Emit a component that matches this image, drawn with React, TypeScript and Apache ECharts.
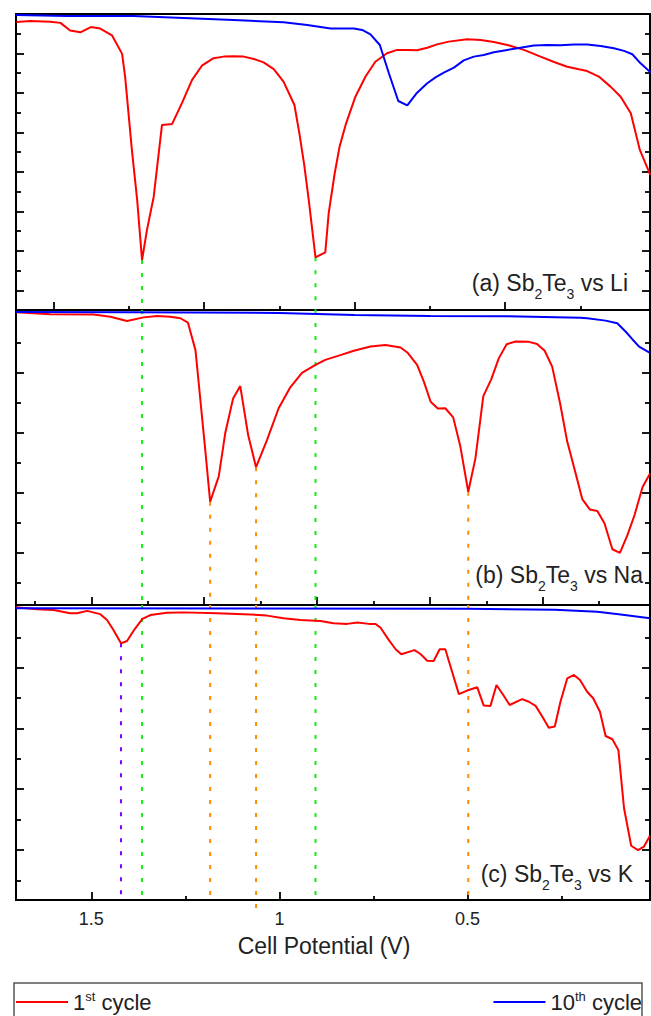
import React, { useEffect, useRef } from "react";
import * as echarts from "echarts";

// ---------- data (cell potential V, dQ/dV in arbitrary units) ----------
const X_MIN = 0.015;
const X_MAX = 1.7;

// (a) Sb2Te3 vs Li
const liFirst: [number, number][] = [
  [1.699, 14.6], [1.662, 14.65], [1.609, 14.61], [1.582, 14.55], [1.556, 14.16], [1.529, 14.07],
  [1.501, 14.34], [1.476, 14.26], [1.445, 13.92], [1.418, 12.98], [1.41, 11.83], [1.392, 8.11],
  [1.378, 5.58], [1.365, 2.53], [1.352, 4.05], [1.334, 5.74], [1.312, 9.38], [1.285, 9.43],
  [1.259, 10.48], [1.232, 11.66], [1.206, 12.38], [1.175, 12.76], [1.148, 12.84], [1.122, 12.86],
  [1.095, 12.84], [1.068, 12.72], [1.042, 12.55], [1.015, 12.21], [0.989, 11.57], [0.96, 10.39],
  [0.947, 8.96], [0.934, 7.35], [0.922, 5.58], [0.904, 2.67], [0.878, 2.92], [0.869, 4.9],
  [0.853, 6.93], [0.84, 8.28], [0.824, 9.38], [0.798, 10.81], [0.771, 11.83], [0.745, 12.58],
  [0.714, 13.01], [0.687, 13.18], [0.66, 13.18], [0.634, 13.16], [0.607, 13.29], [0.581, 13.46],
  [0.55, 13.6], [0.501, 13.72], [0.465, 13.68], [0.43, 13.58], [0.394, 13.43], [0.35, 13.18],
  [0.306, 12.84], [0.27, 12.57], [0.235, 12.33], [0.204, 12.2], [0.182, 12.11], [0.151, 11.83],
  [0.12, 11.32], [0.093, 10.81], [0.066, 9.97], [0.042, 8.11], [0.014, 6.84],
];
const liTenth: [number, number][] = [
  [1.7, 14.95], [1.565, 14.9], [1.388, 14.9], [1.255, 14.8], [1.122, 14.7], [0.989, 14.58],
  [0.926, 14.44], [0.864, 14.26], [0.802, 14.26], [0.78, 14.19], [0.758, 13.97], [0.733, 13.43],
  [0.709, 12.0], [0.684, 10.59], [0.66, 10.37], [0.634, 11.01], [0.607, 11.49], [0.585, 11.79],
  [0.563, 12.03], [0.536, 12.28], [0.51, 12.65], [0.483, 12.84], [0.457, 12.92], [0.43, 13.06],
  [0.394, 13.18], [0.359, 13.29], [0.324, 13.4], [0.288, 13.43], [0.253, 13.42], [0.217, 13.46],
  [0.182, 13.45], [0.146, 13.38], [0.111, 13.26], [0.084, 13.13], [0.062, 12.96], [0.04, 12.5],
  [0.013, 12.03],
];

// (b) Sb2Te3 vs Na
const naFirst: [number, number][] = [
  [1.7, 9.92], [1.609, 9.86], [1.494, 9.85], [1.449, 9.77], [1.405, 9.63], [1.361, 9.75],
  [1.325, 9.8], [1.29, 9.77], [1.263, 9.72], [1.243, 9.57], [1.223, 8.64], [1.21, 6.95],
  [1.197, 5.25], [1.184, 3.5], [1.161, 4.37], [1.144, 5.82], [1.123, 7.0], [1.104, 7.42],
  [1.083, 5.76], [1.062, 4.67], [1.033, 5.59], [1.002, 6.67], [0.971, 7.38], [0.94, 7.87],
  [0.904, 8.14], [0.878, 8.31], [0.838, 8.47], [0.802, 8.62], [0.758, 8.76], [0.718, 8.81],
  [0.678, 8.73], [0.659, 8.55], [0.634, 8.14], [0.616, 7.57], [0.598, 6.89], [0.579, 6.66],
  [0.559, 6.67], [0.538, 6.36], [0.519, 5.37], [0.498, 3.84], [0.479, 4.97], [0.458, 7.08],
  [0.437, 7.65], [0.417, 8.36], [0.396, 8.84], [0.372, 8.93], [0.337, 8.92], [0.315, 8.85],
  [0.295, 8.62], [0.275, 8.08], [0.254, 6.84], [0.235, 5.54], [0.215, 4.58], [0.195, 3.59],
  [0.175, 3.24], [0.155, 3.19], [0.136, 2.77], [0.115, 1.89], [0.095, 1.77], [0.075, 2.37],
  [0.056, 3.05], [0.035, 3.99], [0.015, 4.46],
];
const naTenth: [number, number][] = [
  [1.7, 9.93], [1.4, 9.92], [1.0, 9.9], [0.8, 9.83], [0.6, 9.8], [0.4, 9.79], [0.2, 9.74],
  [0.182, 9.72], [0.133, 9.64], [0.102, 9.55], [0.08, 9.27], [0.062, 9.01], [0.044, 8.76],
  [0.015, 8.55],
];

// (c) Sb2Te3 vs K
const kFirst: [number, number][] = [
  [1.7, 9.92], [1.644, 9.86], [1.6, 9.83], [1.556, 9.72], [1.538, 9.72], [1.511, 9.8],
  [1.476, 9.69], [1.458, 9.49], [1.441, 9.15], [1.421, 8.7], [1.405, 8.78], [1.383, 9.21],
  [1.364, 9.53], [1.343, 9.66], [1.299, 9.74], [1.255, 9.75], [1.166, 9.72], [1.077, 9.68],
  [1.033, 9.64], [0.989, 9.55], [0.944, 9.49], [0.891, 9.46], [0.856, 9.38], [0.82, 9.36],
  [0.793, 9.41], [0.762, 9.36], [0.745, 9.36], [0.731, 9.23], [0.709, 8.81], [0.691, 8.5],
  [0.676, 8.33], [0.641, 8.47], [0.625, 8.34], [0.607, 8.11], [0.59, 8.1], [0.574, 8.5],
  [0.559, 8.5], [0.541, 7.74], [0.523, 6.98], [0.501, 7.1], [0.474, 7.21], [0.457, 6.59],
  [0.439, 6.58], [0.423, 7.29], [0.405, 6.95], [0.388, 6.61], [0.355, 6.81], [0.337, 6.72],
  [0.319, 6.58], [0.301, 6.21], [0.284, 5.84], [0.268, 5.88], [0.253, 6.72], [0.235, 7.51],
  [0.217, 7.63], [0.201, 7.46], [0.182, 7.06], [0.166, 6.84], [0.148, 6.38], [0.133, 5.56],
  [0.115, 5.45], [0.099, 5.08], [0.084, 3.11], [0.065, 1.84], [0.047, 1.69], [0.031, 1.81],
  [0.015, 2.18],
];
const kTenth: [number, number][] = [
  [1.7, 9.89], [0.5, 9.87], [0.268, 9.84], [0.155, 9.77], [0.093, 9.68], [0.015, 9.55],
];

// peak positions marked with dotted guide lines (V)
const liPeaks = [1.365, 0.904];
const naPeaks = [1.184, 1.062, 0.498];
const kPeaks = [1.421];

// axis ticks
const xLabels = [1.5, 1, 0.5];
const xTicksA = { major: [1.6, 1.2, 0.8, 0.4], minor: [1.4, 1.0, 0.6, 0.2] };
const xTicksB = { major: [1.5, 1.2, 0.9, 0.6, 0.3], minor: [1.65, 1.35, 1.05, 0.75, 0.45, 0.15] };
const xTicksC = { major: [1.5, 1.0, 0.5], minor: [1.25, 0.75, 0.25] };
const yTicksA = { min: 0, max: 15, major: [1, 3, 5, 7, 9, 11, 13], minor: [2, 4, 6, 8, 10, 12, 14] };
const yTicksB = { min: 0, max: 10, major: [1.76, 3.8, 5.83, 7.86], minor: [0.75, 2.78, 4.81, 6.85, 8.88] };
const yTicksC = { min: 0, max: 10, major: [1.69, 3.76, 5.8, 7.86], minor: [0.64, 2.71, 4.78, 6.85, 8.88] };

const FONT = "'Liberation Sans', Arial, Helvetica, sans-serif";
const TEXT = "#222";
const RED = "#ff0000";
const BLUE = "#0000ff";
const GREEN = "#11ee11";
const ORANGE = "#ff8c00";
const PURPLE = "#8000ff";

function valueAt(series: [number, number][], v: number): number {
  let best = series[0];
  for (const p of series) if (Math.abs(p[0] - v) < Math.abs(best[0] - v)) best = p;
  return best[1];
}

export default function App() {
  const ref = useRef<HTMLDivElement>(null);

  useEffect(() => {
    const chart = echarts.init(ref.current!, null, { renderer: "svg" });

    const grids = [
      { left: 16, top: 14, width: 634, height: 296 },
      { left: 16, top: 310, width: 634, height: 295 },
      { left: 16, top: 605, width: 634, height: 295 },
    ].map((g) => ({
      ...g,
      show: true,
      borderColor: "#000",
      borderWidth: 2,
      backgroundColor: "transparent",
      containLabel: false,
      outerBoundsMode: "none",
    }));

    const tick = (values: number[], length: number) => ({
      show: true,
      inside: true,
      length,
      customValues: values,
      lineStyle: { color: "#000", width: 1.8 },
    });

    const xBase = (gridIndex: number) => ({
      type: "value",
      gridIndex,
      min: X_MIN,
      max: X_MAX,
      inverse: true,
      position: "bottom",
      axisLine: { show: false },
      splitLine: { show: false },
      axisLabel: { show: false },
    });

    const xAxis: any[] = [];
    [xTicksA, xTicksB, xTicksC].forEach((t, g) => {
      const major: any = { ...xBase(g), axisTick: tick(t.major, 8) };
      if (g === 2) {
        major.axisLabel = {
          show: true,
          customValues: xLabels,
          margin: 10,
          fontSize: 18,
          color: TEXT,
          fontFamily: FONT,
        };
        major.name = "Cell Potential (V)";
        major.nameLocation = "middle";
        major.nameGap = 34;
        major.nameTextStyle = {
          fontSize: 23,
          color: TEXT,
          fontFamily: FONT,
          padding: [0, 18, 0, 0],
        };
      }
      xAxis.push(major);
      xAxis.push({ ...xBase(g), axisTick: tick(t.minor, 4) });
    });

    const yAxis: any[] = [];
    [yTicksA, yTicksB, yTicksC].forEach((t, g) => {
      const base = {
        type: "value",
        gridIndex: g,
        min: t.min,
        max: t.max,
        axisLine: { show: false },
        splitLine: { show: false },
        axisLabel: { show: false },
      };
      yAxis.push({ ...base, position: "left", axisTick: tick(t.major, 8) });
      yAxis.push({ ...base, position: "left", axisTick: tick(t.minor, 5) });
      yAxis.push({ ...base, position: "right", axisTick: tick(t.major, 8) });
      yAxis.push({ ...base, position: "right", axisTick: tick(t.minor, 5) });
    });

    const curve = (name: string, g: number, data: [number, number][], color: string) => ({
      type: "line",
      name,
      xAxisIndex: 2 * g,
      yAxisIndex: 4 * g,
      data,
      color,
      symbol: "none",
      showSymbol: false,
      clip: true,
      lineStyle: { color, width: 2 },
      z: 3,
    });

    const guide = (name: string, g: number, v: number, y0: number, y1: number, color: string) => ({
      type: "line",
      name,
      xAxisIndex: 2 * g,
      yAxisIndex: 4 * g,
      data: [
        [v, y0],
        [v, y1],
      ],
      color,
      symbol: "none",
      showSymbol: false,
      silent: true,
      clip: false,
      lineStyle: { color, width: 2, type: [4, 9], cap: "butt" },
      z: 2,
    });

    const series: any[] = [
      curve("1st cycle", 0, liFirst, RED),
      curve("10th cycle", 0, liTenth, BLUE),
      curve("1st cycle", 1, naFirst, RED),
      curve("10th cycle", 1, naTenth, BLUE),
      curve("1st cycle", 2, kFirst, RED),
      curve("10th cycle", 2, kTenth, BLUE),
    ];
    liPeaks.forEach((v, i) => {
      series.push(guide(`Li peak ${i + 1} a`, 0, v, valueAt(liFirst, v), 0, GREEN));
      series.push(guide(`Li peak ${i + 1} b`, 1, v, 10, 0, GREEN));
      series.push(guide(`Li peak ${i + 1} c`, 2, v, 10, 0, GREEN));
    });
    naPeaks.forEach((v, i) => {
      series.push(guide(`Na peak ${i + 1} b`, 1, v, valueAt(naFirst, v), 0, ORANGE));
      series.push(guide(`Na peak ${i + 1} c`, 2, v, 10, i === 1 ? -0.3 : 0, ORANGE));
    });
    kPeaks.forEach((v, i) => {
      series.push(guide(`K peak ${i + 1} c`, 2, v, valueAt(kFirst, v), 0, PURPLE));
    });

    const legendText = {
      color: TEXT,
      fontFamily: FONT,
      fontSize: 22,
      rich: {
        n: { fontSize: 22, lineHeight: 24, fontFamily: FONT, color: TEXT },
        s: { fontSize: 13, lineHeight: 14, verticalAlign: "top", fontFamily: FONT, color: TEXT },
      },
    };
    const legendFormatter = (name: string) =>
      name === "1st cycle" ? "{n|1}{s|st}{n| cycle}" : "{n|10}{s|th}{n| cycle}";

    const panelRich = {
      m: { fontSize: 23, lineHeight: 36, fontFamily: FONT, fill: TEXT },
      s: { fontSize: 14, lineHeight: 13, verticalAlign: "bottom", fontFamily: FONT, fill: TEXT },
    };
    const panelLabel = (text: string, x: number, y: number) => ({
      type: "text",
      x,
      y,
      silent: true,
      z: 10,
      style: {
        text,
        align: "right",
        verticalAlign: "middle",
        fontSize: 23,
        fontFamily: FONT,
        fill: TEXT,
        rich: panelRich,
      },
    });

    chart.setOption({
      animation: false,
      backgroundColor: "#fff",
      grid: grids,
      xAxis,
      yAxis,
      series,
      legend: [
        {
          data: ["1st cycle"],
          left: 16,
          top: 990,
          icon: "rect",
          itemWidth: 52,
          itemHeight: 2,
          selectedMode: false,
          padding: 0,
          formatter: legendFormatter,
          textStyle: legendText,
        },
        {
          data: ["10th cycle"],
          right: 9,
          top: 990,
          icon: "rect",
          itemWidth: 52,
          itemHeight: 2,
          selectedMode: false,
          padding: 0,
          formatter: legendFormatter,
          textStyle: legendText,
        },
      ],
      graphic: [
        {
          type: "rect",
          silent: true,
          shape: { x: 14, y: 983, width: 628, height: 60 },
          style: { fill: "none", stroke: "#555", lineWidth: 1.5 },
        },
        panelLabel("{m|(a) Sb}{s|2}{m|Te}{s|3}{m| vs Li}", 628, 283),
        panelLabel("{m|(b) Sb}{s|2}{m|Te}{s|3}{m| vs Na}", 643, 575),
        panelLabel("{m|(c) Sb}{s|2}{m|Te}{s|3}{m| vs K}", 633, 874),
      ],
    });

    return () => chart.dispose();
  }, []);

  return (
    <div
      ref={ref}
      style={{ position: "absolute", left: 0, top: 0, width: 651, height: 1016, background: "#fff" }}
    />
  );
}
